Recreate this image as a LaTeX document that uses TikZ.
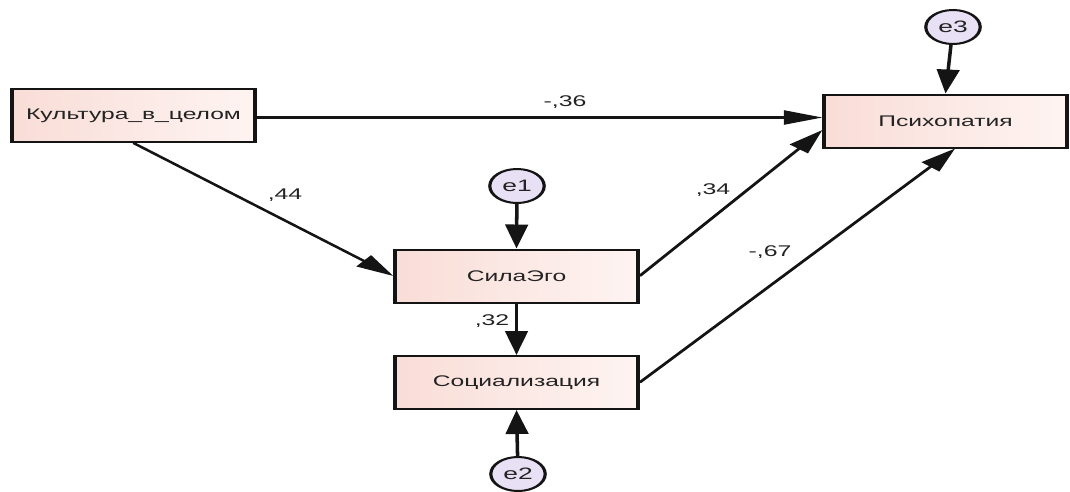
\documentclass[tikz,border=0pt]{standalone}
\usepackage{fontspec}
\newfontfamily\arialf{Liberation Sans}
\usetikzlibrary{arrows.meta,calc}
\definecolor{boxl}{RGB}{249,221,215}
\definecolor{boxr}{RGB}{254,244,242}
\definecolor{errc}{RGB}{232,224,245}
\definecolor{txt}{RGB}{35,35,35}
\definecolor{edge}{RGB}{20,20,20}
\tikzset{
  varbox/.style={draw=edge, line width=2pt, left color=boxl, right color=boxr,
    minimum width=151.9pt, minimum height=53pt, inner sep=0pt,
    font=\arialf\fontsize{15.4}{18}\selectfont, text=txt},
  errnode/.style={draw=edge, line width=2pt, circle, fill=errc,
    minimum size=34pt, inner sep=0pt,
    font=\arialf\fontsize{16.5}{18}\selectfont, text=txt},
  path/.style={draw=edge, line width=2.2pt, -{Triangle[length=24pt,width=14pt]}},
  coef/.style={font=\arialf\fontsize{15.5}{17}\selectfont, text=txt, inner sep=0pt}
}
\begin{document}
\begin{tikzpicture}
\useasboundingbox (0,0) rectangle (1070pt,-491pt);
\begin{scope}[transform canvas={xscale=1.6}, x=0.625pt, y=-1pt]
  \node[varbox] (K) at (133.5,115.5) {Культура\_в\_целом};
  \node[varbox] (P) at (945.5,121) {Психопатия};
  \node[varbox] (S) at (516.5,276) {СилаЭго};
  \node[varbox] (C) at (516.5,382.5) {Социализация};
  \node[errnode] (e1) at (517,186) {e1};
  \node[errnode] (e2) at (518,474) {e2};
  \node[errnode] (e3) at (953,27) {e3};

  \draw[path] ([yshift=-2pt]K.east) -- ([yshift=-2pt]K.east -| P.west);
  \draw[path] (K.south) -- (S.west);
  \draw[path] (S.east) -- ([yshift=-9pt]P.west);
  \draw[path] (C.east) -- ([xshift=6pt]P.south);
  \draw[path] (S.south) -- (C.north);
  \draw[path] (e1) -- (S.north);
  \draw[path] (e2) -- (C.south);
  \draw[path] (e3) -- (P.north);

  \node[coef] (c36) at (565,102) {-,36};
  \node[coef] (c44) at (285,195) {,44};
  \node[coef] (c34) at (713,190) {,34};
  \node[coef] (c67) at (770,252) {-,67};
  \node[coef] (c32) at (492,321) {,32};
\end{scope}
\end{tikzpicture}
\end{document}
